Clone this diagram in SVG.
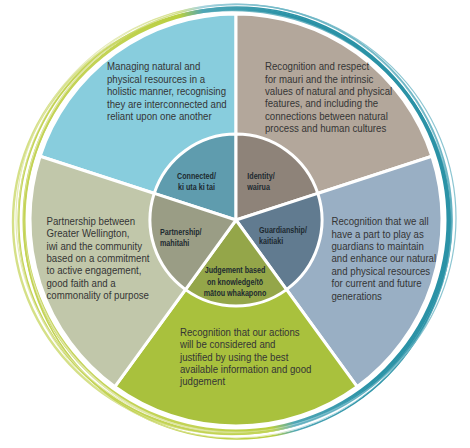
<svg xmlns="http://www.w3.org/2000/svg" width="470" height="448" viewBox="0 0 470 448">
<defs>
<linearGradient id="ringG" gradientUnits="userSpaceOnUse" x1="150" y1="240" x2="330" y2="200">
<stop offset="0" stop-color="#c3d354"/>
<stop offset="0.42" stop-color="#b9cf40"/>
<stop offset="0.55" stop-color="#4fa6b6"/>
<stop offset="1" stop-color="#2a92a6"/>
</linearGradient>
<linearGradient id="ringP" gradientUnits="userSpaceOnUse" x1="150" y1="240" x2="330" y2="200">
<stop offset="0" stop-color="#dfe6a6"/>
<stop offset="0.42" stop-color="#d3df86"/>
<stop offset="0.55" stop-color="#9fd0dc"/>
<stop offset="1" stop-color="#6fb7c6"/>
</linearGradient>
</defs>
<style>
.sl{stroke:#fff;stroke-width:3;stroke-linejoin:round}
.t{font-family:"Liberation Sans",Arial,sans-serif;font-size:11.5px;fill:#353535}
.b{font-family:"Liberation Sans",Arial,sans-serif;font-size:8.6px;font-weight:bold;fill:#1d2a30}
.r{fill:none}
</style>
<rect width="470" height="448" fill="#fff"/>
<g id="ring">
<ellipse class="r" cx="236" cy="220" rx="212" ry="211" stroke="url(#ringG)" stroke-width="3"/>
<ellipse class="r" cx="234" cy="221" rx="215.5" ry="213" stroke="url(#ringG)" stroke-width="2"/>
<ellipse class="r" cx="238" cy="219" rx="214" ry="214.5" stroke="url(#ringP)" stroke-width="1.6"/>
<ellipse class="r" cx="232" cy="222" rx="219" ry="212" stroke="url(#ringG)" stroke-width="2.4" opacity="0.7"/>
<ellipse class="r" cx="237" cy="223" rx="213" ry="216" stroke="url(#ringG)" stroke-width="1.6"/>
<ellipse class="r" cx="236" cy="218" rx="220" ry="214" stroke="url(#ringP)" stroke-width="1.2" opacity="0.8"/>
<ellipse class="r" cx="235" cy="221" rx="217" ry="217" stroke="url(#ringP)" stroke-width="1" opacity="0.7"/>
</g>
<g id="connected">
<path class="sl" fill="#88cddd" d="M236,220 L40.1,156.3 A206,206 0 0 1 236,14 Z"/>
<g transform="translate(107,0) scale(0.84,1)">
<text class="t" x="0" y="70.5">Managing natural and</text>
<text class="t" x="0" y="82.9">physical resources in a</text>
<text class="t" x="0" y="95.3">holistic manner, recognising</text>
<text class="t" x="0" y="107.7">they are interconnected and</text>
<text class="t" x="0" y="120.1">reliant upon one another</text>
</g>
</g>
<g id="identity">
<path class="sl" fill="#b3a79b" d="M236,220 L236,14 A206,206 0 0 1 431.9,156.3 Z"/>
<g transform="translate(265,0) scale(0.84,1)">
<text class="t" x="0" y="70.2">Recognition and respect</text>
<text class="t" x="0" y="82.6">for mauri and the intrinsic</text>
<text class="t" x="0" y="95">values of natural and physical</text>
<text class="t" x="0" y="107.4">features, and including the</text>
<text class="t" x="0" y="119.8">connections between natural</text>
<text class="t" x="0" y="132.2">process and human cultures</text>
</g>
</g>
<g id="guardianship">
<path class="sl" fill="#99afc4" d="M236,220 L431.9,156.3 A206,206 0 0 1 357.1,386.7 Z"/>
<g transform="translate(331.5,0) scale(0.84,1)">
<text class="t" x="0" y="225.2">Recognition that we all</text>
<text class="t" x="0" y="237.6">have a part to play as</text>
<text class="t" x="0" y="250">guardians to maintain</text>
<text class="t" x="0" y="262.4">and enhance our natural</text>
<text class="t" x="0" y="274.8">and physical resources</text>
<text class="t" x="0" y="287.2">for current and future</text>
<text class="t" x="0" y="299.6">generations</text>
</g>
</g>
<g id="judgement">
<path class="sl" fill="#a9c13d" d="M236,220 L357.1,386.7 A206,206 0 0 1 114.9,386.7 Z"/>
<g transform="translate(180,0) scale(0.84,1)">
<text class="t" x="0" y="335.8">Recognition that our actions</text>
<text class="t" x="0" y="348.2">will be considered and</text>
<text class="t" x="0" y="360.6">justified by using the best</text>
<text class="t" x="0" y="373">available information and good</text>
<text class="t" x="0" y="385.4">judgement</text>
</g>
</g>
<g id="partnership">
<path class="sl" fill="#c1c7aa" d="M236,220 L114.9,386.7 A206,206 0 0 1 40.1,156.3 Z"/>
<g transform="translate(46.5,0) scale(0.84,1)">
<text class="t" x="0" y="224.8">Partnership between</text>
<text class="t" x="0" y="237.2">Greater Wellington,</text>
<text class="t" x="0" y="249.6">iwi and the community</text>
<text class="t" x="0" y="262">based on a commitment</text>
<text class="t" x="0" y="274.4">to active engagement,</text>
<text class="t" x="0" y="286.8">good faith and a</text>
<text class="t" x="0" y="299.2">commonality of purpose</text>
</g>
</g>
<g id="connected-core">
<path class="sl" fill="#5f9cae" d="M236,220 L154.2,193.4 A86,86 0 0 1 236,134 Z"/>
<g transform="translate(196.5,0) scale(0.83,1)">
<text class="b" x="0" y="179" text-anchor="middle">Connected/</text>
<text class="b" x="0" y="189.7" text-anchor="middle">ki uta ki tai</text>
</g>
</g>
<g id="identity-core">
<path class="sl" fill="#8e8379" d="M236,220 L236,134 A86,86 0 0 1 317.8,193.4 Z"/>
<g transform="translate(247.3,0) scale(0.83,1)">
<text class="b" x="0" y="179">Identity/</text>
<text class="b" x="0" y="189.7">wairua</text>
</g>
</g>
<g id="guardianship-core">
<path class="sl" fill="#617b90" d="M236,220 L317.8,193.4 A86,86 0 0 1 286.5,289.6 Z"/>
<g transform="translate(259,0) scale(0.83,1)">
<text class="b" x="0" y="233">Guardianship/</text>
<text class="b" x="0" y="243.7">kaitiaki</text>
</g>
</g>
<g id="judgement-core">
<path class="sl" fill="#94a649" d="M236,220 L286.5,289.6 A86,86 0 0 1 185.5,289.6 Z"/>
<g transform="translate(235,0) scale(0.83,1)">
<text class="b" x="0" y="273" text-anchor="middle">Judgement based</text>
<text class="b" x="0" y="284.7" text-anchor="middle">on knowledge/tō</text>
<text class="b" x="0" y="296.3" text-anchor="middle">mātou whakapono</text>
</g>
</g>
<g id="partnership-core">
<path class="sl" fill="#9a9d85" d="M236,220 L185.5,289.6 A86,86 0 0 1 154.2,193.4 Z"/>
<g transform="translate(160,0) scale(0.83,1)">
<text class="b" x="0" y="234.7">Partnership/</text>
<text class="b" x="0" y="245.7">mahitahi</text>
</g>
</g>
<g id="connectors"/>
</svg>
